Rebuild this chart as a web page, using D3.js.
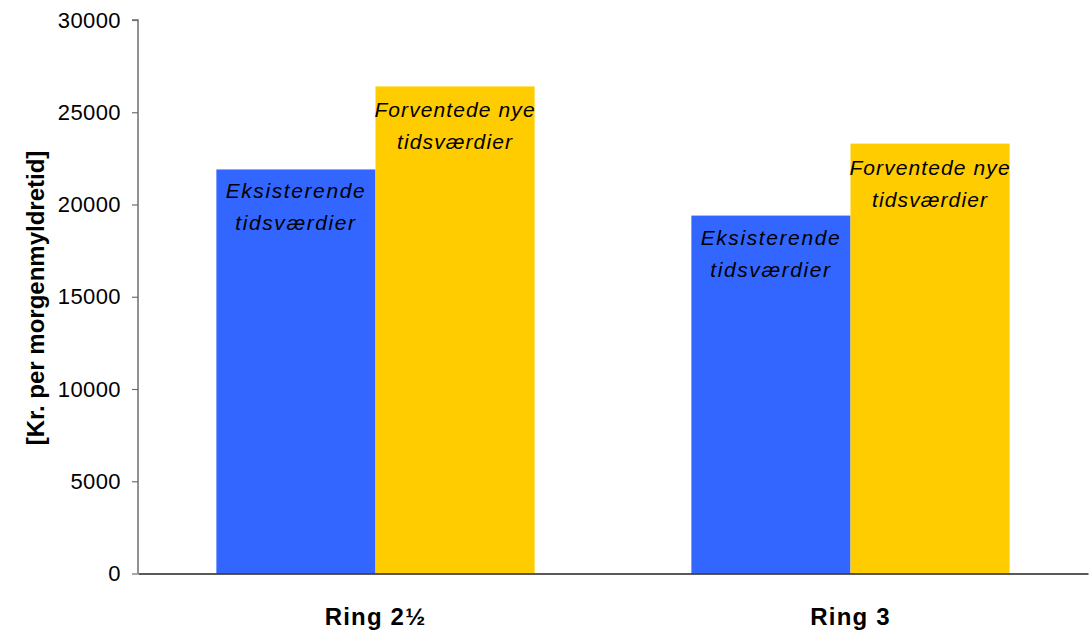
<!DOCTYPE html>
<html><head><meta charset="utf-8">
<script src="https://cdn.jsdelivr.net/npm/d3@7"></script>
<style>body{margin:0;background:#fff}svg{display:block}</style>
</head><body><svg id="c" width="1090" height="632"></svg>
<script>
const categories = ["Ring 2½", "Ring 3"];
const seriesNames = ["Eksisterende tidsværdier", "Forventede nye tidsværdier"];
const labelLines = [["Eksisterende", "tidsværdier"], ["Forventede nye", "tidsværdier"]];
const existing = [21900, 19400];
const expected = [26400, 23300];
const yTicks = [0, 5000, 10000, 15000, 20000, 25000, 30000];
const colors = ["#3366ff", "#ffcc00"];

const svg = d3.select("#c");
const m = {l: 138, r: 2, t: 20, b: 58.5};
const W = 1090, H = 632;
const FONT = "Liberation Sans, Arial, sans-serif";
const x0 = d3.scaleBand().domain(categories).range([m.l, W - m.r]).paddingInner(0.33).paddingOuter(0.165);
const x1 = d3.scaleBand().domain([0, 1]).range([0, x0.bandwidth()]);
const y = d3.scaleLinear().domain([0, 30000]).range([H - m.b, m.t]);

const data = categories.map((c, i) => ({c, vals: [existing[i], expected[i]]}));

const g = svg.append("g").selectAll("g").data(data).join("g")
  .attr("transform", d => `translate(${x0(d.c)},0)`);
g.selectAll("rect").data(d => d.vals.map((v, k) => ({v, k}))).join("rect")
  .attr("x", d => x1(d.k)).attr("width", x1.bandwidth())
  .attr("y", d => y(d.v)).attr("height", d => y(0) - y(d.v))
  .attr("fill", d => colors[d.k]);
g.selectAll("text.lbl").data(d => d.vals.map((v, k) => ({v, k}))).join("text")
  .attr("class", "lbl")
  .attr("x", d => x1(d.k) + x1.bandwidth() / 2)
  .attr("y", d => y(d.v) + (d.k === 0 ? 29 : 31))
  .attr("text-anchor", "middle")
  .style("font-family", FONT)
  .style("font-size", "21px").style("font-style", "italic")
  .style("letter-spacing", d => d.k === 0 ? "1.6px" : "1.1px")
  .attr("fill", "#000")
  .selectAll("tspan").data(d => labelLines[d.k]).join("tspan")
  .attr("x", function() { return this.parentNode.getAttribute("x"); })
  .attr("dy", (d, i) => i === 0 ? 0 : 32)
  .text(d => d);

// y axis
const ya = svg.append("g").attr("transform", `translate(${m.l},0)`)
  .call(d3.axisLeft(y).tickValues(yTicks).tickSize(6).tickPadding(11).tickFormat(d3.format("d")));
ya.select(".domain").attr("stroke", "#6e6e6e").attr("stroke-width", 1.5).attr("d", `M-6,${y(30000)}H0V${y(0)}`);
ya.selectAll(".tick line").attr("stroke", "#6e6e6e").attr("stroke-width", 1.2);
ya.selectAll(".tick text").style("font-family", FONT).style("font-size", "22px").style("letter-spacing", "0.4px").attr("fill", "#000");

// x axis
const xa = svg.append("g").attr("transform", `translate(0,${y(0)})`)
  .call(d3.axisBottom(x0).tickSize(0).tickPadding(34));
xa.select(".domain").attr("stroke", "#222").attr("stroke-width", 1.5);
xa.selectAll(".tick text").style("font-family", FONT).style("font-size", "24px").style("font-weight", "bold").style("letter-spacing", "1.2px").attr("fill", "#000");

svg.append("text")
  .attr("transform", `translate(44,298) rotate(-90)`)
  .attr("text-anchor", "middle")
  .style("font-family", FONT)
  .style("font-size", "24px").style("font-weight", "bold")
  .text("[Kr. per morgenmyldretid]");
</script></body></html>
